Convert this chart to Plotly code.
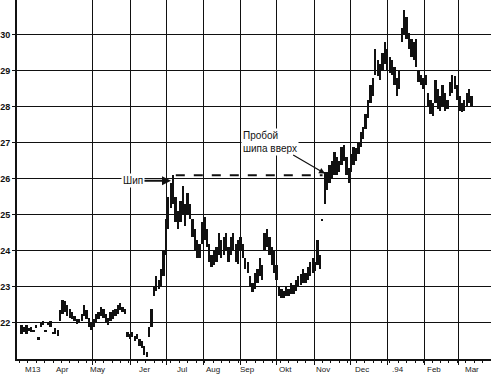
import pandas as pd
import plotly.graph_objects as go

# ---- data ----
start_date = "1993-03-03"
highs = [
    21.95, 21.9, 21.95, 21.85, 21.9, 21.8, 21.95, 21.6, 22.0, 22.05, 21.8, 22.0, 22.05, 21.75, 21.85, 21.8,
    22.35, 22.65, 22.6, 22.5, 22.4, 22.3, 22.2, 22.1, 22.1, 22.25, 22.5, 22.35, 22.15, 22.0, 22.1, 22.25,
    22.3, 22.45, 22.4, 22.25, 22.15, 22.3, 22.35, 22.4, 22.5, 22.55, 22.45, 22.4, 21.75, 21.7, 21.75, 21.65,
    21.7, 21.55, 21.5, 21.35, 21.2, 21.9, 22.4, 23.0, 23.3, 23.2, 23.5, 24.0, 24.9, 25.5, 25.9, 26.1,
    25.5, 25.1, 25.4, 25.8, 25.3, 25.6, 25.3, 24.9, 24.6, 24.3, 24.2, 24.8, 24.95, 24.6, 24.2, 23.9,
    24.0, 24.1, 24.5, 24.3, 24.4, 24.5, 24.1, 24.4, 24.5, 24.2, 24.3, 24.4, 24.2, 23.8, 23.7, 23.3,
    23.1, 23.4, 23.5, 23.8, 23.6, 24.5, 24.6, 24.4, 24.1, 24.0, 23.6, 23.0, 22.95, 22.9, 23.0, 22.95,
    23.1, 23.05, 23.2, 23.3, 23.35, 23.5, 23.4, 23.55, 23.7, 23.8, 23.7, 24.3, 23.9, 24.9, 26.2, 26.2,
    26.4, 26.5, 26.75, 26.6, 26.5, 26.9, 26.95, 26.6, 26.3, 26.7, 26.9, 26.85, 27.0, 27.3, 27.45, 27.8,
    28.2, 28.6, 28.8, 29.6, 29.3, 29.2, 29.5, 29.8, 29.6, 29.4, 29.3, 29.1, 28.8, 29.0, 30.2, 30.7,
    30.5, 30.05, 29.9, 29.8, 29.9, 29.0, 28.9, 28.8, 28.9, 28.4, 28.2, 28.1, 28.75, 28.5, 28.3, 28.6,
    28.4, 28.2, 28.7, 28.9, 28.85, 28.6, 28.3, 28.1, 28.2, 28.4, 28.5, 28.3,
]
lows = [
    21.7, 21.75, 21.7, 21.8, 21.75, 21.75, 21.85, 21.55, 21.9, 21.95, 21.75, 21.95, 21.9, 21.7, 21.7, 21.65,
    22.05, 22.25, 22.3, 22.2, 22.15, 22.1, 22.05, 21.98, 22.0, 22.05, 22.2, 22.1, 21.9, 21.8, 21.9, 22.0,
    22.1, 22.2, 22.15, 22.0, 21.95, 22.05, 22.1, 22.2, 22.25, 22.35, 22.3, 22.25, 21.6, 21.55, 21.6, 21.5,
    21.55, 21.35, 21.3, 21.1, 21.05, 21.6, 21.9, 22.75, 22.9, 22.95, 23.0, 23.3, 23.9, 24.6, 25.2, 25.3,
    24.8, 24.6, 24.8, 25.0, 24.7, 25.0, 24.9, 24.4, 24.0, 23.8, 23.8, 24.2, 24.3, 24.1, 23.7, 23.55,
    23.6, 23.7, 23.9, 23.8, 23.9, 24.0, 23.7, 23.9, 24.0, 23.7, 23.65, 24.0, 23.8, 23.5, 23.4, 23.0,
    22.85, 22.95, 23.1, 23.3, 23.2, 24.0, 24.1, 23.9, 23.6, 23.4, 23.2, 22.75, 22.7, 22.7, 22.75, 22.75,
    22.8, 22.8, 22.9, 23.0, 23.05, 23.1, 23.1, 23.2, 23.3, 23.4, 23.45, 23.6, 23.5, 24.85, 25.3, 25.7,
    25.9, 26.0, 26.1, 26.1, 26.2, 26.4, 26.5, 26.1, 25.9, 26.2, 26.4, 26.5, 26.7, 26.9, 27.1, 27.4,
    27.7, 28.1, 28.3, 28.9, 28.85, 28.75, 29.0, 29.2, 29.0, 28.95, 28.9, 28.6, 28.3, 28.5, 29.8, 30.0,
    29.9, 29.6, 29.4, 29.3, 29.1, 28.7, 28.6, 28.5, 28.6, 28.0, 27.8, 27.75, 28.1, 27.95, 27.9, 28.0,
    27.9, 27.95, 28.3, 28.4, 28.5, 28.2, 27.9, 27.85, 27.9, 28.0, 28.1, 28.0,
]
y_ticks = [22, 23, 24, 25, 26, 27, 28, 29, 30]
month_lines = ["1993-05-01", "1993-06-01", "1993-07-01", "1993-08-01", "1993-09-01", "1993-10-01",
               "1993-11-01", "1993-12-01", "1994-01-01", "1994-02-01", "1994-03-01"]
month_labels = ["M13", "Apr", "May", "Jer", "Jul", "Aug", "Sep", "Okt", "Nov", "Dec", ".94", "Feb", "Mar"]
month_label_pos = ["1993-03-12", "1993-04-06", "1993-05-05", "1993-06-13", "1993-07-14", "1993-08-09",
                   "1993-09-07", "1993-10-08", "1993-11-08", "1993-12-11", "1994-01-10", "1994-02-09",
                   "1994-03-12"]
spike_idx = 63
break_idx = 125

dates = pd.date_range(start_date, periods=len(highs), freq="2D")
ranges = [h - l for h, l in zip(highs, lows)]

fig = go.Figure()
fig.add_trace(go.Bar(
    x=dates, y=ranges, base=lows,
    width=1.5 * 86400000,
    marker=dict(color="#111111", line=dict(width=0)),
    hoverinfo="skip", showlegend=False,
))
# dashed spike level line
fig.add_trace(go.Scatter(
    x=[dates[spike_idx + 1], dates[break_idx]],
    y=[highs[spike_idx], highs[spike_idx]],
    mode="lines", line=dict(color="#111111", width=2, dash="dash"),
    hoverinfo="skip", showlegend=False,
))

annotations = []
for lab, pos in zip(month_labels, month_label_pos):
    annotations.append(dict(
        x=pos, y=0, xref="x", yref="paper", yanchor="top", yshift=-4,
        text=lab, showarrow=False,
        font=dict(family="Liberation Sans, Arial", size=8, color="#222222"),
    ))
annotations.append(dict(
    x=dates[spike_idx - 1], y=25.95, xref="x", yref="y",
    text="Шип", showarrow=True, arrowhead=2, arrowsize=0.9, arrowwidth=2,
    arrowcolor="#111111", ax=-38, ay=0, bgcolor="white",
    font=dict(family="Liberation Sans, Arial", size=10, color="#111111"),
))
annotations.append(dict(
    x=dates[break_idx + 1], y=26.15, xref="x", yref="y",
    text="Пробой<br>шипа вверх", align="left", showarrow=True,
    arrowhead=2, arrowsize=1, arrowwidth=1.2, arrowcolor="#111111",
    ax=-55, ay=-32, bgcolor="white",
    font=dict(family="Liberation Sans, Arial", size=10, color="#111111"),
))

fig.update_layout(
    width=491, height=378,
    margin=dict(l=17, r=0, t=0, b=19),
    paper_bgcolor="white", plot_bgcolor="white",
    bargap=0,
    annotations=annotations,
    xaxis=dict(
        type="date", range=["1993-02-27", "1994-03-28"],
        tickmode="array", tickvals=month_lines, ticktext=[""] * len(month_lines),
        showgrid=True, gridcolor="#111111", gridwidth=1.3,
        showline=True, linecolor="#111111", linewidth=2,
        ticks="outside", ticklen=4, tickcolor="#111111", tickwidth=1.3,
        minor=dict(tick0="1993-03-01", dtick=7 * 86400000, ticks="outside",
                   ticklen=2, tickcolor="#111111", tickwidth=1, showgrid=False),
        zeroline=False,
    ),
    yaxis=dict(
        range=[21.0, 30.97],
        tickmode="array", tickvals=y_ticks,
        showgrid=True, gridcolor="#111111", gridwidth=1.4,
        showline=True, linecolor="#111111", linewidth=2,
        ticks="outside", ticklen=3, tickcolor="#111111", tickwidth=1.4,
        tickfont=dict(family="Liberation Sans, Arial", size=9, color="#111111", weight="bold"),
        zeroline=False,
    ),
)

fig.write_html("out.html")
